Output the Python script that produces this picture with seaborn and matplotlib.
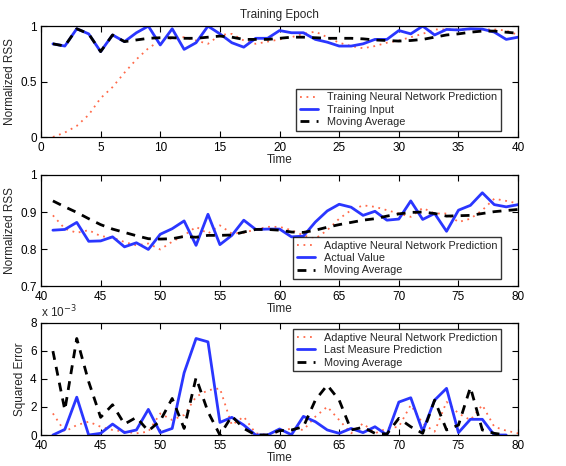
import numpy as np
import pandas as pd
import matplotlib
matplotlib.use("Agg")
import matplotlib.pyplot as plt
import seaborn as sns

# ---- Training epoch (t = 1..40) ----
train_time = list(range(1, 41))
train_input = [0.84, 0.82, 0.976, 0.93, 0.77, 0.92, 0.86, 0.94, 1.0, 0.83,
               0.976, 0.79, 0.85, 1.0, 0.93, 0.85, 0.81, 0.89, 0.89, 0.96,
               0.94, 0.94, 0.88, 0.855, 0.82, 0.82, 0.84, 0.88, 0.88, 0.96,
               0.93, 1.0, 0.92, 0.97, 0.965, 0.976, 0.973, 0.946, 0.88, 0.90]
train_nn = [0.0, 0.04, 0.10, 0.20, 0.35, 0.45, 0.58, 0.70, 0.80, 0.87,
            0.89, 0.90, 0.87, 0.84, 0.92, 0.93, 0.87, 0.84, 0.86, 0.88,
            0.90, 0.93, 0.95, 0.90, 0.85, 0.82, 0.80, 0.82, 0.85, 0.87,
            0.90, 0.93, 0.97, 0.97, 0.97, 0.97, 0.97, 0.97, 0.96, 0.92]
train_ma = [0.84, 0.82, 0.976, 0.93, 0.77, 0.92, 0.86, 0.875, 0.89, 0.895,
            0.895, 0.89, 0.89, 0.90, 0.91, 0.90, 0.88, 0.88, 0.88, 0.89,
            0.90, 0.90, 0.895, 0.89, 0.89, 0.89, 0.885, 0.875, 0.87, 0.865,
            0.87, 0.88, 0.90, 0.92, 0.93, 0.945, 0.955, 0.955, 0.945, 0.935]

# ---- Adaptive phase (t = 41..80) ----
adapt_time = list(range(41, 81))
actual = [0.851, 0.853, 0.872, 0.821, 0.822, 0.833, 0.806, 0.817, 0.799, 0.840,
          0.855, 0.876, 0.810, 0.894, 0.812, 0.837, 0.878, 0.853, 0.854, 0.854,
          0.833, 0.835, 0.873, 0.903, 0.921, 0.913, 0.891, 0.902, 0.878, 0.881,
          0.930, 0.880, 0.896, 0.848, 0.905, 0.918, 0.952, 0.920, 0.914, 0.920]
adapt_nn = [0.891, 0.855, 0.844, 0.851, 0.835, 0.831, 0.819, 0.810, 0.815, 0.799,
            0.820, 0.837, 0.860, 0.842, 0.864, 0.842, 0.844, 0.853, 0.860, 0.860,
            0.851, 0.837, 0.828, 0.851, 0.882, 0.905, 0.918, 0.914, 0.905, 0.896,
            0.887, 0.911, 0.896, 0.896, 0.873, 0.882, 0.905, 0.936, 0.930, 0.923]
adapt_ma = [0.930, 0.914, 0.899, 0.882, 0.866, 0.854, 0.845, 0.836, 0.828, 0.827,
            0.828, 0.834, 0.832, 0.837, 0.837, 0.838, 0.846, 0.853, 0.853, 0.851,
            0.846, 0.845, 0.851, 0.859, 0.866, 0.872, 0.878, 0.882, 0.889, 0.895,
            0.899, 0.900, 0.896, 0.889, 0.890, 0.891, 0.896, 0.901, 0.904, 0.907]

# ---- Squared error, in units of 1e-3 ----
err_nn_time = list(range(41, 81))
err_nn = [1.54, 0.24, 0.71, 0.95, 0.59, 0.36, 0.24, 0.12, 0.24, 1.54,
          1.07, 1.43, 2.73, 3.20, 3.33, 0.71, 1.31, 0.12, 0.0, 0.24,
          0.47, 0.36, 1.31, 2.02, 1.07, 0.12, 0.83, 0.12, 0.47, 0.59,
          2.14, 0.83, 0.24, 2.37, 1.54, 1.07, 2.14, 0.59, 0.31, 0.12]
err_time = list(range(41, 80))
err_last = [0.0, 0.40, 2.70, 0.0, 0.12, 0.78, 0.17, 0.36, 1.83, 0.17,
            0.47, 4.44, 6.89, 6.65, 0.90, 1.26, 0.71, 0.0, 0.0, 0.43,
            0.02, 1.33, 0.95, 0.36, 0.12, 0.47, 0.17, 0.59, 0.0, 2.35,
            2.66, 0.26, 2.49, 3.33, 0.17, 1.12, 1.12, 0.0, 0.0]
err_ma = [5.99, 1.78, 6.89, 3.80, 1.26, 2.16, 0.78, 1.26, 0.29, 1.02,
          2.61, 0.47, 4.09, 1.66, 0.0, 1.35, 0.47, 0.0, 0.0, 0.31,
          0.36, 0.59, 2.49, 3.56, 2.49, 0.36, 0.55, 0.12, 0.07, 1.19,
          0.59, 0.12, 2.49, 0.36, 0.71, 3.40, 0.36, 0.12, 0.0]

sns.set_theme(style="white")
plt.rcParams["font.family"] = ["Liberation Sans", "DejaVu Sans"]
plt.rcParams.update({
    "xtick.direction": "in", "ytick.direction": "in",
    "xtick.bottom": True, "ytick.left": True,
    "xtick.top": True, "ytick.right": True,
    "xtick.major.size": 4, "ytick.major.size": 4,
    "xtick.major.width": 0.8, "ytick.major.width": 0.8,
    "axes.edgecolor": "black", "axes.linewidth": 0.9,
    "font.size": 8,
})

RED = "#ff6a4a"
BLUE = "#2a36ff"
dotted = (0, (1.0, 2.6))
LEGEND_KW = dict(fontsize=7.8, frameon=True, fancybox=False, edgecolor="black",
                 borderpad=0.35, handlelength=1.7, handletextpad=0.8,
                 labelspacing=0.22, borderaxespad=0)

fig = plt.figure(figsize=(5.66, 4.66), dpi=100)
left, width = 0.0724, 0.843
ax1 = fig.add_axes([left, 0.706, width, 0.238])
ax2 = fig.add_axes([left, 0.386, width, 0.2385])
ax3 = fig.add_axes([left, 0.0665, width, 0.2405])


def draw(ax, x, nn, mid, ma, labels, nn_x=None):
    sns.lineplot(x=nn_x if nn_x is not None else x, y=nn, ax=ax, color=RED,
                 linestyle=dotted, linewidth=1.3, label=labels[0])
    sns.lineplot(x=x, y=mid, ax=ax, color=BLUE, linewidth=2.0, label=labels[1])
    sns.lineplot(x=x, y=ma, ax=ax, color="black", linestyle=(0, (3.2, 2.6)),
                 linewidth=2.0, label=labels[2])
    for s in ax.spines.values():
        s.set_visible(True)
        s.set_color("black")
    ax.tick_params(axis="x", labelsize=8.5, pad=3.5, colors="black")
    ax.tick_params(axis="y", labelsize=8.5, pad=3, colors="black")
    ax.set_xlabel("Time", fontsize=8.5, labelpad=0)


def legend(ax, loc, anchor):
    leg = ax.legend(loc=loc, bbox_to_anchor=anchor, **LEGEND_KW)
    leg.get_frame().set_linewidth(1.0)


draw(ax1, train_time, train_nn, train_input, train_ma,
     ["Training Neural Network Prediction", "Training Input", "Moving Average"])
ax1.set_xlim(0, 40)
ax1.set_ylim(0, 1)
ax1.set_xticks([0, 5, 10, 15, 20, 25, 30, 35, 40])
ax1.set_yticks([0, 0.5, 1])
ax1.set_yticklabels(["0", "0.5", "1"])
ax1.set_ylabel("Normalized RSS", fontsize=8.5, labelpad=3)
ax1.set_title("Training Epoch", fontsize=8.5, pad=6)
legend(ax1, "lower right", (0.964, 0.054))

draw(ax2, adapt_time, adapt_nn, actual, adapt_ma,
     ["Adaptive Neural Network Prediction", "Actual Value", "Moving Average"])
ax2.set_xlim(40, 80)
ax2.set_ylim(0.7, 1)
ax2.set_xticks(range(40, 81, 5))
ax2.set_yticks([0.7, 0.8, 0.9, 1.0])
ax2.set_yticklabels(["0.7", "0.8", "0.9", "1"])
ax2.set_ylabel("Normalized RSS", fontsize=8.5, labelpad=3)
legend(ax2, "lower right", (0.964, 0.063))

draw(ax3, err_time, err_nn, err_last, err_ma,
     ["Adaptive Neural Network Prediction", "Last Measure Prediction", "Moving Average"],
     nn_x=err_nn_time)
ax3.set_xlim(40, 80)
ax3.set_ylim(0, 8)
ax3.set_xticks(range(40, 81, 5))
ax3.set_yticks([0, 2, 4, 6, 8])
ax3.set_ylabel("Squared Error", fontsize=8.5, labelpad=3)
ax3.text(0.0, 1.02, r"x 10$^{-3}$", transform=ax3.transAxes, fontsize=8.5,
         ha="left", va="bottom")
legend(ax3, "upper right", (0.964, 0.946))

fig.savefig("out.png", dpi=100)
